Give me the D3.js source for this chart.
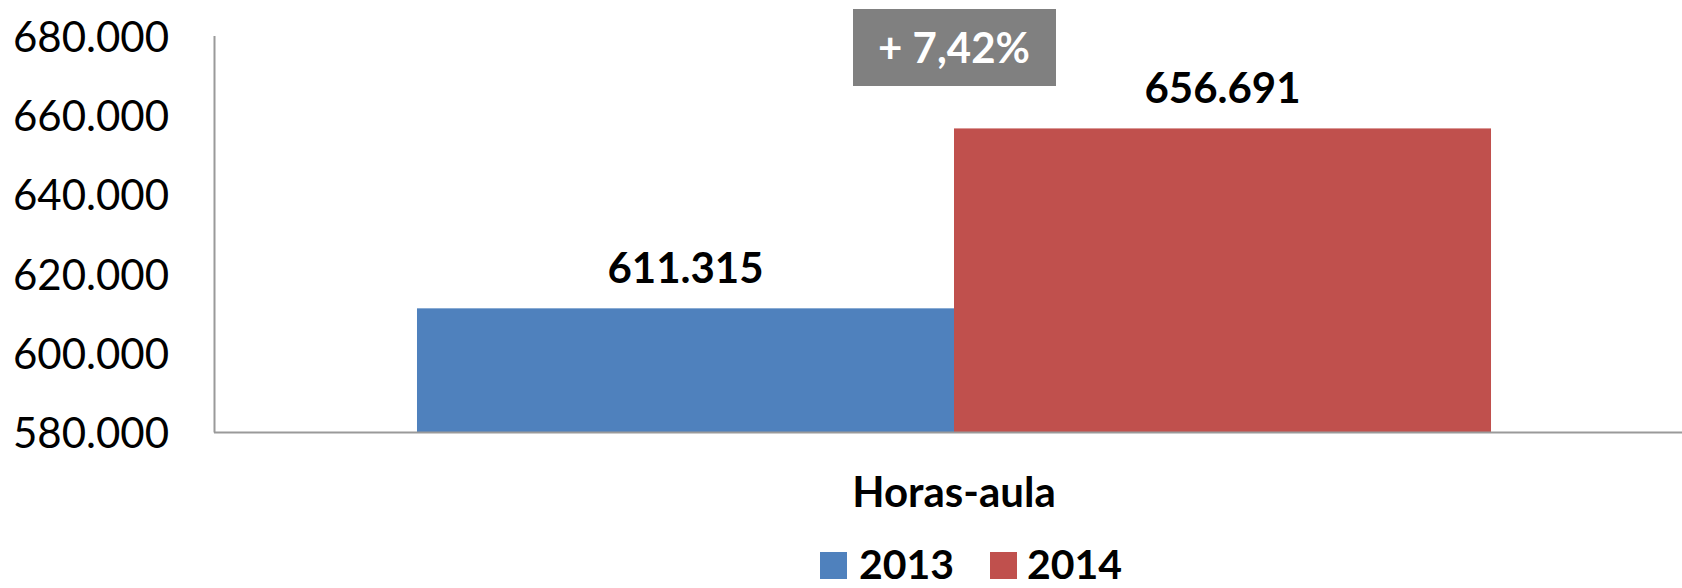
<!DOCTYPE html>
<html>
<head>
<meta charset="utf-8">
<script src="https://cdn.jsdelivr.net/npm/d3@7"></script>
<style>
  body { margin: 0; background: #fff; }
  svg { display: block; font-family: Lato, "Open Sans", sans-serif; }
</style>
</head>
<body>
<svg id="chart" width="1682" height="588"></svg>
<script>
// data
const categories = ["Horas-aula"];
const series = ["2013", "2014"];
const values = [611315, 656691];
const yTicks = [580000, 600000, 620000, 640000, 660000, 680000];
const changeLabel = "+ 7,42%";
const colors = ["#4F81BD", "#C0504D"];

const width = 1682, height = 588;
const svg = d3.select("#chart");

// pt-BR style numbers: 611.315
const locale = d3.formatLocale({ decimal: ",", thousands: ".", grouping: [3], currency: ["R$", ""] });
const fmt = locale.format(",.0f");

const y = d3.scaleLinear().domain([580000, 680000]).range([432.5, 36]);
const x0 = d3.scaleBand().domain(categories).range([214, 1694]).paddingInner(0).paddingOuter(0.189);
const x1 = d3.scaleBand().domain(series).range([0, x0.bandwidth()]).padding(0);

// y axis labels (no tick marks)
const yAxis = d3.axisLeft(y).tickValues(yTicks).tickFormat(fmt).tickSize(0).tickPadding(45);
const gy = svg.append("g").attr("transform", "translate(214,0)").call(yAxis);
gy.select(".domain").remove();
gy.selectAll("text")
    .attr("font-size", "42px")
    .attr("font-family", "Lato, 'Open Sans', sans-serif")
    .attr("fill", "#000")
    .attr("dy", "0.36em");

// bars
const g = svg.append("g");
categories.forEach(cat => {
    series.forEach((s, i) => {
        const bx = x0(cat) + x1(s);
        g.append("rect")
            .attr("x", bx)
            .attr("y", y(values[i]))
            .attr("width", x1.bandwidth())
            .attr("height", y(580000) - y(values[i]))
            .attr("fill", colors[i]);

        g.append("text")
            .attr("x", bx + x1.bandwidth() / 2)
            .attr("y", y(values[i]) - 25)
            .attr("text-anchor", "middle")
            .attr("font-size", "42px")
            .attr("font-weight", "bold")
            .text(fmt(values[i]));
    });

    // category label
    svg.append("text")
        .attr("x", x0(cat) + x0.bandwidth() / 2)
        .attr("y", 507)
        .attr("text-anchor", "middle")
        .attr("font-size", "42px")
        .attr("font-weight", "bold")
        .text(cat);
});

// axis lines
svg.append("line")
    .attr("x1", 214.5).attr("x2", 214.5)
    .attr("y1", y(680000)).attr("y2", y(580000))
    .attr("stroke", "#9a9a9a").attr("stroke-width", 2);
svg.append("line")
    .attr("x1", 214).attr("x2", width)
    .attr("y1", y(580000)).attr("y2", y(580000))
    .attr("stroke", "#9a9a9a").attr("stroke-width", 2);

// change annotation box
const boxCx = x0(categories[0]) + x0.bandwidth() / 2;
svg.append("rect")
    .attr("x", 853).attr("y", 9)
    .attr("width", 203).attr("height", 77)
    .attr("fill", "#808080");
svg.append("text")
    .attr("x", boxCx)
    .attr("y", 63)
    .attr("text-anchor", "middle")
    .attr("font-size", "42px")
    .attr("font-weight", "bold")
    .attr("fill", "#fff")
    .text(changeLabel);

// legend
const legendPos = [[820, 859], [990, 1027]];
series.forEach((s, i) => {
    svg.append("rect")
        .attr("x", legendPos[i][0]).attr("y", 552)
        .attr("width", 27).attr("height", 27)
        .attr("fill", colors[i]);
    svg.append("text")
        .attr("x", legendPos[i][1])
        .attr("y", 579)
        .attr("font-size", "41px")
        .attr("font-weight", "bold")
        .text(s);
});
</script>
</body>
</html>
